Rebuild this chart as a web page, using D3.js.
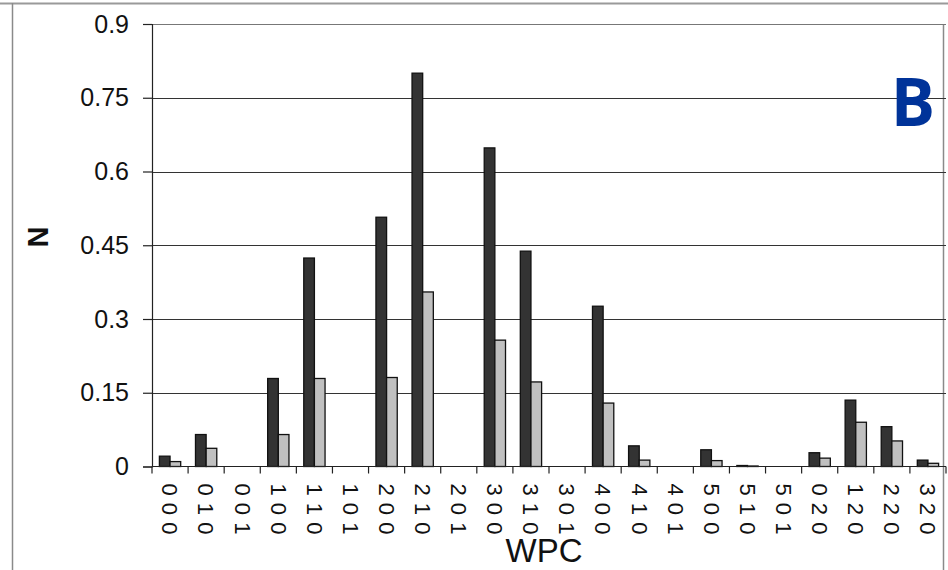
<!DOCTYPE html>
<html>
<head>
<meta charset="utf-8">
<script src="https://cdn.jsdelivr.net/npm/d3@7"></script>
<style>
  body { margin: 0; background: #fff; }
  svg { display: block; }
</style>
</head>
<body>
<script>
var width = 948;
var height = 570;
var plotLeft = 152, plotRight = 946, plotTop = 24, plotBottom = 466.5;
var darkColor = "rgb(51,51,51)";
var lightColor = "rgb(192,192,192)";

var categories = ["000","010","001","100","110","101","200","210","201","300","310","301",
                  "400","410","401","500","510","501","020","120","220","320"];
var seriesDark = [0.021,0.065,0,0.179,0.424,0,0.507,0.800,0,0.648,0.438,0,
                  0.326,0.042,0,0.034,0.002,0,0.028,0.135,0.081,0.013];
var seriesLight = [0.010,0.037,0,0.065,0.179,0,0.181,0.355,0,0.257,0.172,0,
                   0.129,0.013,0,0.012,0.001,0,0.017,0.090,0.052,0.0065];
var yTicks = [0, 0.15, 0.3, 0.45, 0.6, 0.75, 0.9];

var svg = d3.select("body").append("svg")
  .attr("width", width)
  .attr("height", height);

// outer frame
svg.append("line").attr("x1", 0).attr("x2", width).attr("y1", 3.5).attr("y2", 3.5)
  .attr("stroke", "#9a9a9a").attr("stroke-width", 2);
svg.append("line").attr("x1", 12.5).attr("x2", 12.5).attr("y1", 3).attr("y2", height)
  .attr("stroke", "#8a8a8a").attr("stroke-width", 1.5);
svg.append("line").attr("x1", 943.5).attr("x2", 943.5).attr("y1", plotTop).attr("y2", height)
  .attr("stroke", "#8a8a8a").attr("stroke-width", 1.5);

var x0 = d3.scaleBand().domain(categories).range([plotLeft, plotRight]).padding(0);
var bw = x0.bandwidth();
var x1 = d3.scaleBand().domain(["dark", "light"]).range([bw * 0.205, bw * 0.795]).padding(0);
var y = d3.scaleLinear().domain([0, 0.9]).range([plotBottom, plotTop]);

// gridlines
svg.append("g").selectAll("line").data(yTicks.slice(1)).join("line")
  .attr("x1", plotLeft).attr("x2", plotRight)
  .attr("y1", function(d) { return Math.round(y(d)) + 0.5; })
  .attr("y2", function(d) { return Math.round(y(d)) + 0.5; })
  .attr("stroke", function(d) { return d === 0.9 ? "#777" : "#333"; })
  .attr("stroke-width", 1.2);

// y axis
var yAxis = d3.axisLeft(y).tickValues(yTicks).tickSize(9).tickPadding(14)
  .tickFormat(function(d) { return String(+d.toFixed(2)); });
var gy = svg.append("g").attr("transform", "translate(" + plotLeft + ",0)").call(yAxis);
gy.select(".domain").attr("stroke", "#222").attr("stroke-width", 1.2);
gy.selectAll(".tick line").attr("stroke", "#222").attr("stroke-width", 1.2);
gy.selectAll(".tick text")
  .attr("font-family", "Liberation Sans, Arial, sans-serif")
  .attr("font-size", 25)
  .attr("fill", "#111");

// bars
var rows = categories.map(function(c, i) {
  return { cat: c, values: [{ key: "dark", v: seriesDark[i] }, { key: "light", v: seriesLight[i] }] };
});
var groups = svg.append("g").selectAll("g").data(rows).join("g")
  .attr("transform", function(d) { return "translate(" + x0(d.cat) + ",0)"; });
groups.selectAll("rect").data(function(d) { return d.values.filter(function(e) { return e.v > 0; }); })
  .join("rect")
  .attr("x", function(d) { return x1(d.key); })
  .attr("width", x1.bandwidth())
  .attr("y", function(d) { return y(d.v); })
  .attr("height", function(d) { return plotBottom - y(d.v); })
  .attr("fill", function(d) { return d.key === "dark" ? darkColor : lightColor; })
  .attr("stroke", "#111")
  .attr("stroke-width", 1.3);

// x axis
var gx = svg.append("g").attr("transform", "translate(0," + plotBottom + ")");
gx.append("line").attr("x1", plotLeft).attr("x2", plotRight).attr("stroke", "#222").attr("stroke-width", 1.2);
gx.selectAll("line.tick").data(d3.range(categories.length + 1)).join("line")
  .attr("class", "tick")
  .attr("x1", function(i) { return plotLeft + i * bw; })
  .attr("x2", function(i) { return plotLeft + i * bw; })
  .attr("y1", 0).attr("y2", 7)
  .attr("stroke", "#222").attr("stroke-width", 1.2);
gx.selectAll("text").data(categories).join("text")
  .attr("transform", function(d) {
    return "translate(" + (x0(d) + bw / 2) + ",17) rotate(90)";
  })
  .attr("dy", "0.35em")
  .attr("font-family", "Liberation Sans, Arial, sans-serif")
  .attr("font-size", 22)
  .attr("letter-spacing", 0.5)
  .attr("fill", "#111")
  .text(function(d) { return d.split("").join(" "); });

// axis titles
svg.append("text")
  .attr("x", 544).attr("y", 562)
  .attr("text-anchor", "middle")
  .attr("font-family", "Liberation Sans, Arial, sans-serif")
  .attr("font-size", 33)
  .attr("fill", "#111")
  .text("WPC");
svg.append("text")
  .attr("transform", "translate(48,237) rotate(-90)")
  .attr("text-anchor", "middle")
  .attr("font-family", "Liberation Sans, Arial, sans-serif")
  .attr("font-weight", 700)
  .attr("font-size", 29)
  .attr("fill", "#111")
  .text("N");

// panel letter
svg.append("text")
  .attr("x", 913).attr("y", 126)
  .attr("text-anchor", "middle")
  .attr("font-family", "Open Sans, sans-serif")
  .attr("font-weight", 700)
  .attr("font-size", 66)
  .attr("fill", "rgb(0,51,153)")
  .text("B");
</script>
</body>
</html>
